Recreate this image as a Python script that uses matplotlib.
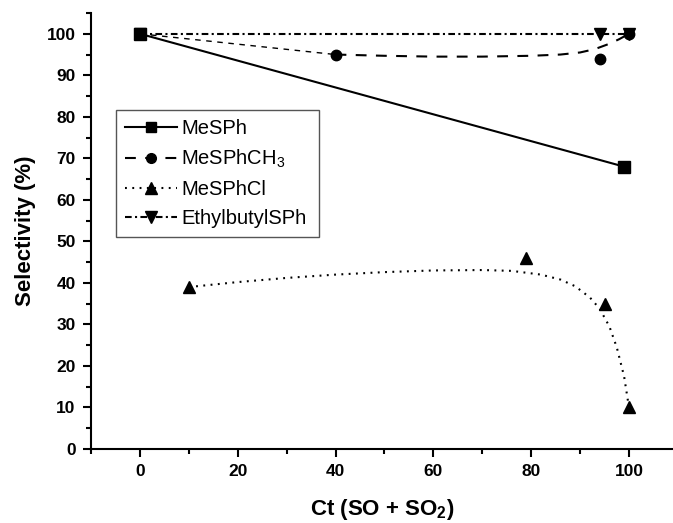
import matplotlib
matplotlib.use("Agg")
import matplotlib.pyplot as plt
from matplotlib.ticker import MultipleLocator

plt.rcParams['font.family'] = ['Liberation Sans', 'DejaVu Sans']
plt.rcParams['mathtext.fontset'] = 'custom'
plt.rcParams['mathtext.rm'] = 'Liberation Sans'
plt.rcParams['mathtext.it'] = 'Liberation Sans:italic'
plt.rcParams['mathtext.bf'] = 'Liberation Sans:bold'

# Data points (markers)
mesph_x = [0, 99]
mesph_y = [100, 68]

mesphch3_x = [0, 40, 94, 100]
mesphch3_y = [100, 95, 94, 100]

mesphcl_x = [10, 79, 95, 100]
mesphcl_y = [39, 46, 35, 10]

ethyl_x = [0, 94, 100]
ethyl_y = [100, 100, 100]

# Smoothed trend curves
mesphch3_curve1_x = [0, 40]
mesphch3_curve1_y = [100, 95]
mesphch3_curve2_x = [40, 50, 60, 70, 80, 86, 90, 93, 96, 98, 100]
mesphch3_curve2_y = [95.0, 94.7, 94.5, 94.5, 94.7, 95.0, 95.5, 96.3, 97.6, 98.7, 100]

mesphcl_curve_x = [10, 20, 30, 40, 50, 60, 70, 76, 82, 86, 89, 92, 94, 96, 97.5, 99, 100]
mesphcl_curve_y = [39, 40.2, 41.2, 42.0, 42.6, 43.0, 43.1, 42.9, 42.0, 40.8, 39.2, 36.5, 33.8, 29.5, 24.5, 17.5, 10]

fig = plt.figure(figsize=(6.73, 5.23), dpi=100)
ax = fig.add_axes([0.1352, 0.1415, 0.8648, 0.8336])

lw = 1.5
ls_dash = (0, (5.2, 4.5))
ls_dash_thin = (0, (4, 4))
ls_dot = (0, (0.9, 2.6))
ls_dashdot = (0, (3.2, 1.6, 1.0, 1.6))
ax.plot(mesph_x, mesph_y, color='black', lw=lw, ls='-')
ax.plot(mesphch3_curve1_x, mesphch3_curve1_y, color='black', lw=1.0, ls=ls_dash_thin)
ax.plot(mesphch3_curve2_x, mesphch3_curve2_y, color='black', lw=lw, ls=ls_dash)
ax.plot(mesphcl_curve_x, mesphcl_curve_y, color='black', lw=lw, ls=ls_dot)
ax.plot(ethyl_x, ethyl_y, color='black', lw=lw, ls=ls_dashdot)

ax.plot(mesph_x, mesph_y, ls='none', marker='s', ms=8, color='black')
ax.plot(mesphch3_x, mesphch3_y, ls='none', marker='o', ms=7.5, color='black')
ax.plot(mesphcl_x, mesphcl_y, ls='none', marker='^', ms=8.5, color='black')
ax.plot(ethyl_x, ethyl_y, ls='none', marker='v', ms=8.5, color='black')

# Legend proxies
h1, = ax.plot([], [], color='black', lw=lw, ls='-', marker='s', ms=6.5)
h2, = ax.plot([], [], color='black', lw=lw, ls=ls_dash, marker='o', ms=7)
h3, = ax.plot([], [], color='black', lw=lw, ls=ls_dot, marker='^', ms=8)
h4, = ax.plot([], [], color='black', lw=lw, ls=ls_dashdot, marker='v', ms=8)
leg = ax.legend([h1, h2, h3, h4], ['MeSPh', 'MeSPhCH$_3$', 'MeSPhCl', 'EthylbutylSPh'],
                loc='upper left', bbox_to_anchor=(0.043, 0.5, 0.349, 0.278), mode='expand',
                fontsize=14.5, frameon=True, fancybox=False, edgecolor='#555555', framealpha=1,
                handlelength=2.6, handletextpad=0.2, labelspacing=0.5, borderpad=0.45,
                borderaxespad=0)
leg.get_frame().set_linewidth(1.0)

ax.set_xlim(-10, 109)
ax.set_ylim(0, 105)
ax.xaxis.set_major_locator(MultipleLocator(20))
ax.xaxis.set_minor_locator(MultipleLocator(10))
ax.yaxis.set_major_locator(MultipleLocator(10))
ax.yaxis.set_minor_locator(MultipleLocator(5))

for s in ['top', 'right']:
    ax.spines[s].set_visible(False)
for s in ['left', 'bottom']:
    ax.spines[s].set_linewidth(1.5)

ax.tick_params(which='major', direction='out', length=6, width=1.5, labelsize=12.5, pad=5)
ax.tick_params(which='minor', direction='out', length=3.5, width=1.5)
for lab in ax.get_xticklabels() + ax.get_yticklabels():
    lab.set_fontweight('bold')

ax.set_xlabel('Ct (SO + SO$_\\mathbf{2}$)', fontsize=16, fontweight='bold', labelpad=13)
ax.set_ylabel('Selectivity (%)', fontsize=16, fontweight='bold', labelpad=8)

fig.savefig('out.png', dpi=100)
